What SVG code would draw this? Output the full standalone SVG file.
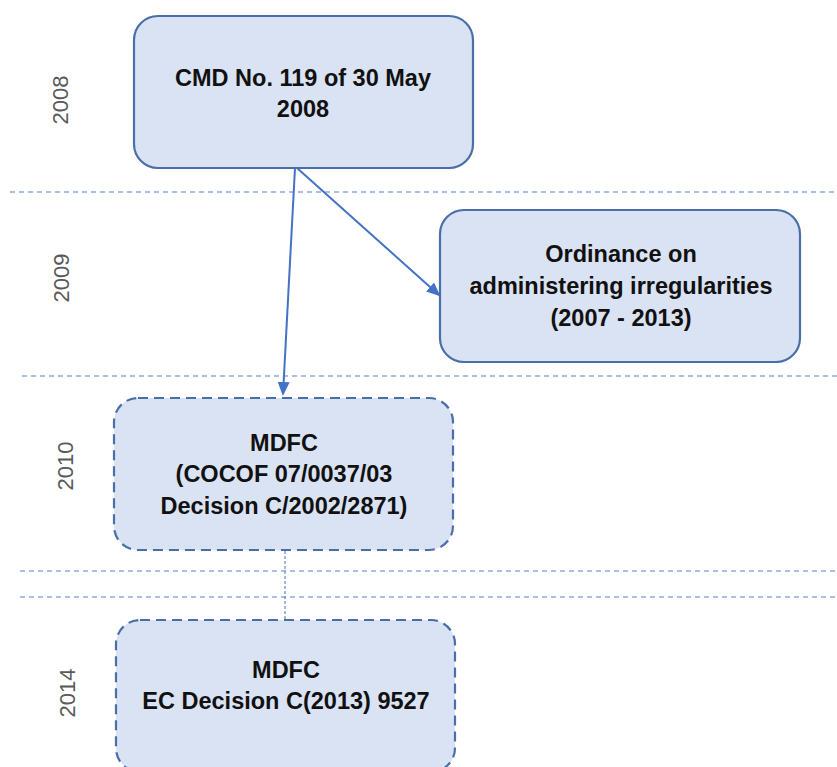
<svg xmlns="http://www.w3.org/2000/svg" width="837" height="767" viewBox="0 0 837 767">
<defs>
<marker id="arr" markerWidth="14" markerHeight="12" refX="12" refY="6" orient="auto" markerUnits="userSpaceOnUse">
<path d="M0,0 L14,6 L0,12 Z" fill="#4472C4"/>
</marker>
<style>
.box{fill:#DAE3F3;stroke:#4A6EA8;stroke-width:2.2}
.dash{stroke-dasharray:10 6}
.t{font-family:"Liberation Sans",Arial,sans-serif;font-weight:bold;font-size:23.5px;fill:#111;text-anchor:middle}
.yr{font-family:"Liberation Sans",Arial,sans-serif;font-size:22px;fill:#595959;text-anchor:middle}
.sep{stroke:#8FAADC;stroke-width:1.5;stroke-dasharray:5 4;fill:none}
.con{stroke:#4472C4;stroke-width:2;fill:none}
</style>
</defs>
<rect width="837" height="767" fill="#fff"/>
<g id="separators">
<line class="sep" x1="10" y1="192" x2="837" y2="192"/>
<line class="sep" x1="22" y1="376" x2="837" y2="376"/>
<line class="sep" x1="20" y1="571" x2="837" y2="571"/>
<line class="sep" x1="20" y1="597" x2="837" y2="597"/>
</g>
<g id="years">
<text class="yr" transform="translate(68,100) rotate(-90)">2008</text>
<text class="yr" transform="translate(69,278) rotate(-90)">2009</text>
<text class="yr" transform="translate(73,466) rotate(-90)">2010</text>
<text class="yr" transform="translate(75,693) rotate(-90)">2014</text>
</g>
<g id="connectors">
<line class="con" x1="295" y1="168" x2="283" y2="394" marker-end="url(#arr)"/>
<line class="con" x1="297" y1="168" x2="439" y2="295" marker-end="url(#arr)"/>
<line x1="285" y1="551" x2="285" y2="620" stroke="#4472C4" stroke-width="1" stroke-dasharray="3 2"/>
</g>
<g id="cmd">
<rect class="box" x="134" y="16" width="339" height="152" rx="24"/>
<text class="t" x="303" y="86">CMD No. 119 of 30 May</text>
<text class="t" x="303" y="117">2008</text>
</g>
<g id="ordinance">
<rect class="box" x="440" y="210" width="360" height="152" rx="24"/>
<text class="t" x="621" y="262">Ordinance on</text>
<text class="t" x="621" y="294">administering irregularities</text>
<text class="t" x="621" y="326">(2007 - 2013)</text>
</g>
<g id="mdfc2010">
<rect class="box dash" x="114" y="398" width="339" height="152" rx="24"/>
<text class="t" x="284" y="451">MDFC</text>
<text class="t" x="284" y="482">(COCOF 07/0037/03</text>
<text class="t" x="284" y="514">Decision C/2002/2871)</text>
</g>
<g id="mdfc2014">
<rect class="box dash" x="116" y="620" width="339" height="152" rx="24"/>
<text class="t" x="286" y="678">MDFC</text>
<text class="t" x="286" y="709">EC Decision C(2013) 9527</text>
</g>
</svg>
